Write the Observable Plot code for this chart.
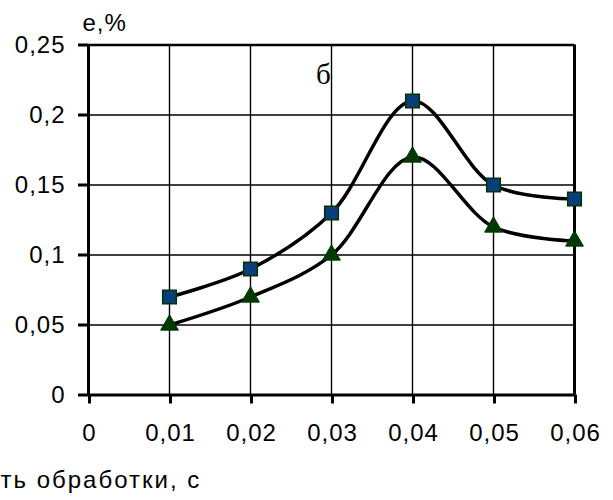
<!DOCTYPE html>
<html>
<head>
<meta charset="utf-8">
<script src="https://cdn.jsdelivr.net/npm/d3@7"></script>
<script src="https://cdn.jsdelivr.net/npm/@observablehq/plot@0.6"></script>
<style>
  html, body { margin: 0; padding: 0; background: #fff; }
  #chart svg { display: block; }
  #chart svg text { letter-spacing: 1px; }
  #chart svg text.serif { letter-spacing: 0; }
  #chart svg text.wide { letter-spacing: 2px; }
</style>
</head>
<body>
<div id="chart"></div>
<script>
const xValues = [0.01, 0.02, 0.03, 0.04, 0.05, 0.06];
const seriesSquare = [0.07, 0.09, 0.13, 0.21, 0.15, 0.14];
const seriesTriangle = [0.05, 0.07, 0.10, 0.17, 0.12, 0.11];
const xTicks = [0, 0.01, 0.02, 0.03, 0.04, 0.05, 0.06];
const yTicks = [0, 0.05, 0.1, 0.15, 0.2, 0.25];
const yLabel = "e,%";
const xLabel = "ть обработки, с";
const panelLabel = "б";

const sq = xValues.map((x, i) => ({x, y: seriesSquare[i]}));
const tr = xValues.map((x, i) => ({x, y: seriesTriangle[i]}));
const fmt = d => String(d).replace(".", ",");
const font = "Liberation Sans, Arial, sans-serif";

const chart = Plot.plot({
  width: 613,
  height: 500,
  marginLeft: 88,
  marginRight: 39,
  marginTop: 44.5,
  marginBottom: 105.5,
  style: {fontFamily: font, fontSize: "24px", background: "#fff", color: "#000"},
  x: {domain: [0, 0.06]},
  y: {domain: [0, 0.25]},
  marks: [
    Plot.gridX(xTicks, {stroke: "#000", strokeOpacity: 1, strokeWidth: 1.4}),
    Plot.gridY(yTicks, {stroke: "#000", strokeOpacity: 1, strokeWidth: 1.4}),
    Plot.ruleX([0, 0.06], {strokeWidth: 3}),
    Plot.ruleY([0], {strokeWidth: 3}),
    Plot.ruleY([0.25], {strokeWidth: 2.5}),
    Plot.axisY(yTicks, {tickSize: 10, tickPadding: 13, tickFormat: fmt, strokeWidth: 3, fontSize: 24, label: null}),
    Plot.axisX(xTicks, {tickSize: 9, tickPadding: 20, tickFormat: fmt, strokeWidth: 3, fontSize: 24, label: null, dx: 1}),
    Plot.line(sq, {x: "x", y: "y", curve: "catmull-rom", stroke: "#000", strokeWidth: 3.5}),
    Plot.line(tr, {x: "x", y: "y", curve: "catmull-rom", stroke: "#000", strokeWidth: 3.5}),
    Plot.dot(sq, {x: "x", y: "y", symbol: "square", r: 7.7, fill: "#0a3d7c", stroke: "#003300", strokeWidth: 1.5}),
    Plot.dot(tr, {x: "x", y: "y", symbol: "triangle", r: 6.6, fill: "#003a00", stroke: "#003a00", strokeWidth: 1}),
    Plot.text([yLabel], {frameAnchor: "top-left", dx: -6, dy: -31, text: d => d, fontSize: 24, textAnchor: "start", lineAnchor: "top"}),
    Plot.text([panelLabel], {x: [0.029], y: [0.229], text: d => d, fontFamily: "Liberation Serif, Times New Roman, serif", fontSize: 29, textAnchor: "middle", lineAnchor: "middle"}),
    Plot.text([xLabel], {frameAnchor: "bottom-left", dx: -88, dy: 85, text: d => d, fontSize: 24, textAnchor: "start", lineAnchor: "middle"})
  ]
});
chart.querySelectorAll("text").forEach(t => {
  if (t.textContent === panelLabel) t.setAttribute("class", "serif");
  if (t.textContent === xLabel) t.setAttribute("class", "wide");
});
document.getElementById("chart").append(chart);
</script>
</body>
</html>
